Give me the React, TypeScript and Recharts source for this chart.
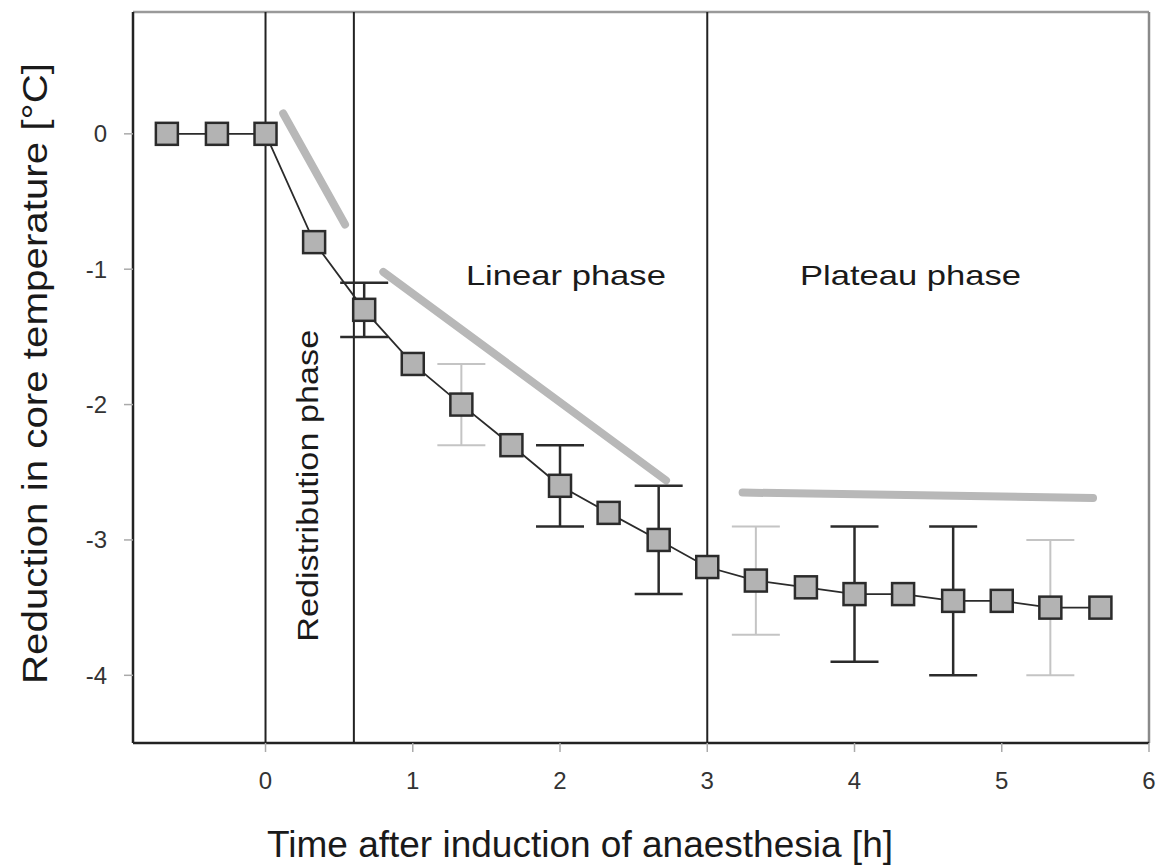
import React from 'react';
import {
  ComposedChart,
  Line,
  Scatter,
  ErrorBar,
  XAxis,
  YAxis,
  ReferenceLine,
  ReferenceDot,
} from 'recharts';

// ---- data ----
const timeHours = [-0.67, -0.33, 0, 0.33, 0.67, 1, 1.33, 1.67, 2, 2.33, 2.67, 3, 3.33, 3.67, 4, 4.33, 4.67, 5, 5.33, 5.67];
const tempDrop = [0, 0, 0, -0.8, -1.3, -1.7, -2.0, -2.3, -2.6, -2.8, -3.0, -3.2, -3.3, -3.35, -3.4, -3.4, -3.45, -3.45, -3.5, -3.5];

// error bars (index into the series, +/- half range)
const darkErrIdx = [4, 8, 10, 14, 16];
const darkErr = [0.2, 0.3, 0.4, 0.5, 0.55];
const lightErrIdx = [6, 12, 18];
const lightErr = [0.3, 0.4, 0.5];

// phase boundaries (h)
const phaseBoundaries = [0, 0.6, 3];

// grey trend segments [x1, y1, x2, y2]
const trendRedistribution = [0.12, 0.15, 0.54, -0.67];
const trendLinear = [0.8, -1.02, 2.72, -2.56];
const trendPlateau = [3.24, -2.65, 5.62, -2.69];

const xTicks = [0, 1, 2, 3, 4, 5, 6];
const yTicks = [-4, -3, -2, -1, 0];
const xDomain = [-0.9, 6];
const yDomain = [-4.5, 0.9];

const mainData = timeHours.map((x, i) => ({ x, y: tempDrop[i] }));
const darkErrData = darkErrIdx.map((idx, i) => ({ x: timeHours[idx], y: tempDrop[idx], err: darkErr[i] }));
const lightErrData = lightErrIdx.map((idx, i) => ({ x: timeHours[idx], y: tempDrop[idx], err: lightErr[i] }));
const trends = [trendRedistribution, trendLinear, trendPlateau];

const FONT = '"Liberation Sans", Arial, Helvetica, sans-serif';

const Square = (p: any) => (
  <rect
    x={p.cx - 11}
    y={p.cy - 11}
    width={22}
    height={22}
    fill="#b3b3b3"
    stroke="#2b2b2b"
    strokeWidth={2.5}
  />
);

const Nothing = () => <g />;

const XTitle = (props: any) => {
  const vb = props.viewBox || {};
  return (
    <text
      x={vb.x + 447}
      y={vb.y + 114}
      textAnchor="middle"
      fontFamily={FONT}
      fontSize={36}
      fill="#1a1a1a"
      textLength={626}
      lengthAdjust="spacingAndGlyphs"
    >
      Time after induction of anaesthesia [h]
    </text>
  );
};

const YTitle = (props: any) => {
  const vb = props.viewBox || {};
  const cx = 47;
  const cy = vb.y + vb.height / 2 - 4;
  return (
    <text
      x={cx}
      y={cy}
      transform={`rotate(-90, ${cx}, ${cy})`}
      textAnchor="middle"
      fontFamily={FONT}
      fontSize={35}
      fill="#1a1a1a"
      textLength={621}
      lengthAdjust="spacingAndGlyphs"
    >
      Reduction in core temperature [°C]
    </text>
  );
};

const makeAnno = (txt: string, len: number, rotate: boolean, fs: number) => (props: any) => {
  const vb = props.viewBox || {};
  const x = vb.x;
  const y = vb.y;
  return (
    <text
      x={x}
      y={y}
      transform={rotate ? `rotate(-90, ${x}, ${y})` : undefined}
      textAnchor="middle"
      fontFamily={FONT}
      fontSize={fs}
      fill="#1a1a1a"
      textLength={len}
      lengthAdjust="spacingAndGlyphs"
    >
      {txt}
    </text>
  );
};

const LinearLabel = makeAnno('Linear phase', 200, false, 28);
const PlateauLabel = makeAnno('Plateau phase', 221, false, 28);
const RedistLabel = makeAnno('Redistribution phase', 312, true, 29);

export default function App() {
  return (
    <div style={{ position: 'absolute', left: 0, top: 0, width: 1167, height: 867, background: '#fff' }}>
      <ComposedChart
        width={1167}
        height={867}
        margin={{ top: 12, right: 18, bottom: 0, left: 0 }}
      >
        <XAxis
          type="number"
          dataKey="x"
          domain={xDomain}
          ticks={xTicks}
          allowDataOverflow
          height={124}
          axisLine={{ stroke: '#222', strokeWidth: 2.5 }}
          tickLine={{ stroke: '#aaa', strokeWidth: 1.5 }}
          tickSize={9}
          tickMargin={20}
          tick={{ fill: '#333', fontSize: 24, fontFamily: FONT }}
          label={{ content: XTitle }}
        />
        <YAxis
          type="number"
          domain={yDomain}
          ticks={yTicks}
          allowDataOverflow
          width={133}
          axisLine={{ stroke: '#222', strokeWidth: 2.5 }}
          tickLine={{ stroke: '#aaa', strokeWidth: 1.5 }}
          tickSize={9}
          tickMargin={17}
          tick={{ fill: '#333', fontSize: 24, fontFamily: FONT }}
          label={{ content: YTitle }}
        />
        <ReferenceLine y={yDomain[1]} stroke="#9a9a9a" strokeWidth={2.5} />
        <ReferenceLine x={xDomain[1]} stroke="#8a8a8a" strokeWidth={2.5} />
        {phaseBoundaries.map((b) => (
          <ReferenceLine key={'b' + b} x={b} stroke="#222" strokeWidth={2} />
        ))}
        {trends.map((t, i) => (
          <ReferenceLine
            key={'t' + i}
            segment={[{ x: t[0], y: t[1] }, { x: t[2], y: t[3] }]}
            stroke="#b8b8b8"
            strokeWidth={8}
            strokeLinecap="round"
          />
        ))}
        <ReferenceDot x={2.04} y={-1.12} r={0} fill="none" stroke="none" label={{ content: LinearLabel }} />
        <ReferenceDot x={4.38} y={-1.12} r={0} fill="none" stroke="none" label={{ content: PlateauLabel }} />
        <ReferenceDot x={0.355} y={-2.6} r={0} fill="none" stroke="none" label={{ content: RedistLabel }} />
        <Line
          data={mainData}
          dataKey="y"
          type="linear"
          stroke="#2b2b2b"
          strokeWidth={1.8}
          dot={false}
          activeDot={false}
          isAnimationActive={false}
        />
        <Scatter data={lightErrData} dataKey="y" shape={Nothing} isAnimationActive={false}>
          <ErrorBar dataKey="err" direction="y" width={24} stroke="#c4c4c4" strokeWidth={2} />
        </Scatter>
        <Scatter data={darkErrData} dataKey="y" shape={Nothing} isAnimationActive={false}>
          <ErrorBar dataKey="err" direction="y" width={24} stroke="#2b2b2b" strokeWidth={2.5} />
        </Scatter>
        <Scatter data={mainData} dataKey="y" shape={Square} isAnimationActive={false} />
      </ComposedChart>
    </div>
  );
}
